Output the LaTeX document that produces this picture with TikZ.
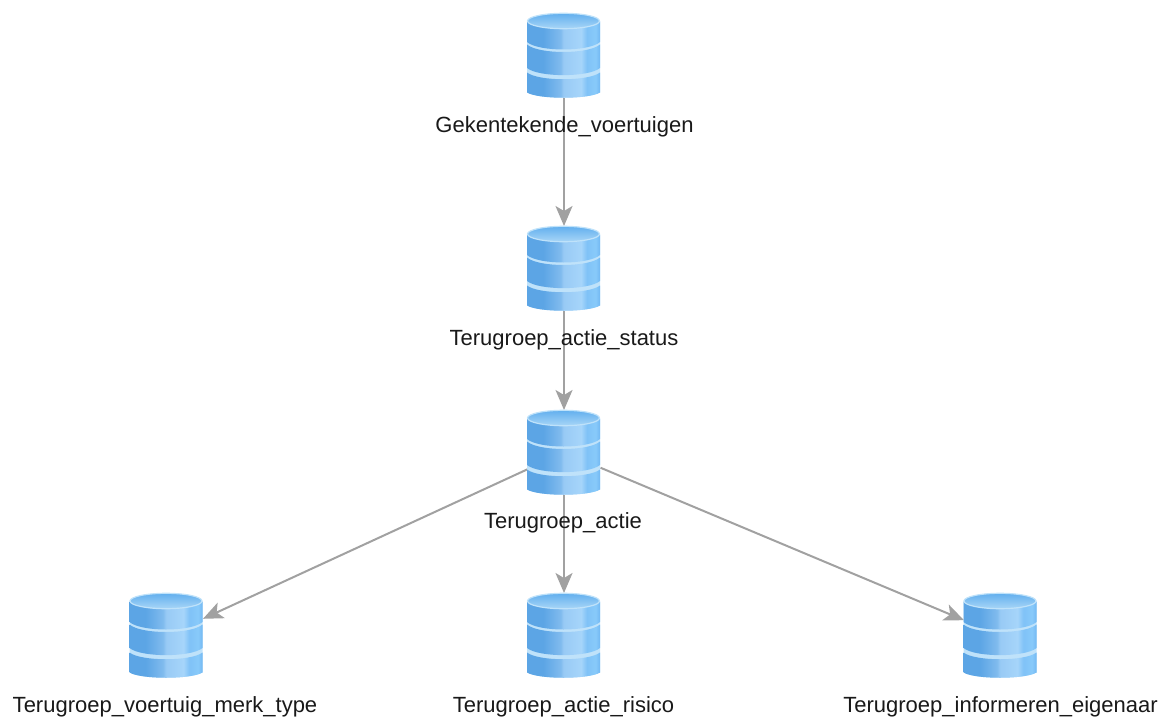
\documentclass[tikz,border=0pt]{standalone}
\usepackage{fontspec}
\setmainfont{Liberation Sans}
\usetikzlibrary{arrows.meta}
\definecolor{tiptop}{HTML}{62AFEE}
\definecolor{rim}{HTML}{BFE2FA}
\definecolor{bandA}{HTML}{5CA5E5}
\definecolor{bandB}{HTML}{80BBEE}
\definecolor{bandC}{HTML}{98CAF5}
\definecolor{bandD}{HTML}{A6D5FA}
\definecolor{bandE}{HTML}{80C2F7}
\definecolor{bandF}{HTML}{88CAFA}
\definecolor{bandG}{HTML}{72B8F2}
\pgfdeclarehorizontalshading{dbband}{100bp}{
  color(0bp)=(bandA);
  color(25bp)=(bandA);
  color(36bp)=(bandA);
  color(48bp)=(bandB);
  color(50bp)=(bandC);
  color(62bp)=(bandD);
  color(66bp)=(bandE);
  color(72bp)=(bandF);
  color(75bp)=(bandG);
  color(100bp)=(bandG)}
\tikzset{
  dbicon/.style={rectangle,minimum width=73pt,minimum height=85pt,inner sep=0pt,outer sep=0pt},
  dblabel/.style={font=\fontsize{22}{26}\selectfont,text=black!90,inner sep=0pt,anchor=base},
  link/.style={draw=black!37,line width=2pt,-{Stealth[length=20pt,width=17pt,inset=5pt]}},
  band/.style={shading=dbband,draw=none}
}
% one database icon, drawn in a node's local frame: px offsets from its centre
\newcommand{\dbdraw}[1]{%
  \begin{scope}[shift={(#1.center)},xshift=-0.5pt,x=1pt,y=-1pt]
    % silhouette, seen through the gaps between the bands
    \path[fill=rim] (-36.5,-34) -- (-36.5,37) .. controls (-25,44) and (25,44) .. (36.5,37)
       -- (36.5,-34) -- cycle;
    % bottom band
    \path[band] (-36.5,17) .. controls (-25,26) and (25,26) .. (36.5,17)
       -- (36.5,37) .. controls (25,44) and (-25,44) .. (-36.5,37) -- cycle;
    % middle band
    \path[band] (-36.5,-11) .. controls (-25,-1) and (25,-1) .. (36.5,-11)
       -- (36.5,12.5) .. controls (25,22) and (-25,22) .. (-36.5,12.5) -- cycle;
    % top band
    \path[band] (-36.5,-34) -- (-36.5,-13.5) .. controls (-25,-3.5) and (25,-3.5) .. (36.5,-13.5)
       -- (36.5,-34) -- cycle;
    % lid
    \path[top color=tiptop,bottom color=rim!75!tiptop,draw=rim,line width=1.2pt]
       (0,-34.5) ellipse [x radius=36,y radius=7.7];
  \end{scope}}
\begin{document}
\begin{tikzpicture}[x=1pt,y=-1pt]
\useasboundingbox (0,0) rectangle (1161,717);
\node[dbicon] (g) at (564,55.5) {};
\node[dbicon] (s) at (564,268.5) {};
\node[dbicon] (a) at (564,452.5) {};
\node[dbicon] (v) at (166.5,635.5) {};
\node[dbicon] (r) at (564,635.5) {};
\node[dbicon] (e) at (1000.5,635.5) {};
\draw[link] (g) -- (s);
\draw[link] (s) -- (a);
\draw[link] (a) -- (v);
\draw[link] (a) -- (r);
\draw[link] (a) -- (e);
\dbdraw{g}\dbdraw{s}\dbdraw{a}\dbdraw{v}\dbdraw{r}\dbdraw{e}
\node[dblabel] (lg) at (564.5,132) {Gekentekende\_voertuigen};
\node[dblabel] (ls) at (564,345) {Terugroep\_actie\_status};
\node[dblabel] (la) at (563,528.5) {Terugroep\_actie};
\node[dblabel] (lv) at (165,712) {Terugroep\_voertuig\_merk\_type};
\node[dblabel] (lr) at (563.5,712) {Terugroep\_actie\_risico};
\node[dblabel] (le) at (1000.5,712) {Terugroep\_informeren\_eigenaar};
\end{tikzpicture}
\end{document}
